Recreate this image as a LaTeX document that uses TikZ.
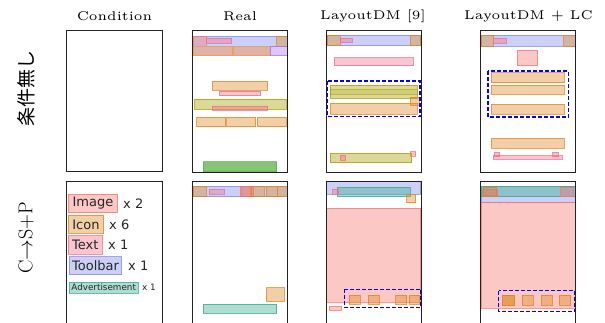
\documentclass[tikz,border=0pt]{standalone}
\usepackage{fontspec}
\newfontfamily\dejavu{DejaVu Sans}
\newfontfamily\cjk{Noto Sans CJK JP}
\definecolor{cimg}{HTML}{F8766D}
\definecolor{cicon}{HTML}{DE8720}
\definecolor{ctext}{HTML}{F06E8C}
\definecolor{ctool}{HTML}{808AED}
\definecolor{cad}{HTML}{34AA8E}
\definecolor{colive}{HTML}{A79D00}
\definecolor{cpurp}{HTML}{AC75F2}
\definecolor{cgreen}{HTML}{5DB04A}
\definecolor{cmauve}{HTML}{DDB2A8}
\definecolor{frame}{HTML}{222222}
\tikzset{
  el/.style={fill opacity=0.4, draw opacity=0.75, line width=0.8pt},
  img/.style={el, fill=cimg, draw=cimg},
  icon/.style={el, fill=cicon, draw=cicon},
  txt/.style={el, fill=ctext, draw=ctext},
  tool/.style={el, fill=ctool, draw=ctool},
  ad/.style={el, fill=cad, draw=cad},
  olive/.style={el, fill=colive, draw=colive},
  olivethin/.style={fill opacity=0.2, draw opacity=0.5, line width=0.6pt, fill=colive, draw=colive},
  purp/.style={el, fill=cpurp, draw=cpurp},
  green/.style={el, fill opacity=0.75, fill=cgreen, draw=cgreen},
  mauve/.style={line width=0.8pt, fill=cmauve, draw=cicon!80, draw opacity=0.75},
  panel/.style={draw=frame, line width=0.8pt},
  lc/.style={draw=blue, line width=1.4pt, dash pattern=on 4pt off 2pt},
  title/.style={scale=2.55, inner sep=0pt, font=\fontsize{5}{6}\selectfont},
  chiptext/.style={inner sep=0pt, text=black!85, font=\dejavu\fontsize{13}{14}\selectfont},
  cnt/.style={inner sep=0pt, anchor=west, text=black!85, font=\dejavu\fontsize{13}{14}\selectfont},
}
\begin{document}
\begin{tikzpicture}[x=1pt,y=-1pt]
\useasboundingbox (0,0) rectangle (605,322);
\clip (0,0) rectangle (605,322);

% titles
\node[title] (t1) at (114.5,16.5) {Condition};
\node[title] (t2) at (240,16.5) {Real};
\node[title] (t3) at (373,16.5) {LayoutDM [9]};
\node[title] (t4) at (528.5,16.5) {LayoutDM + LC};

% row labels
\node[rotate=90, inner sep=0pt, font=\cjk\fontsize{19}{20}\selectfont] (r1) at (26,88) {条件無し};
\node[rotate=90, inner sep=0pt, font=\fontsize{20}{22}\selectfont] (r2) at (26,238) {C$\rightarrow$S$+$P};

% ---------------- Row 1 -----------------
\draw[panel] (66.7,30.5) rectangle (162.3,171.5);

% Real row 1
\draw[tool] (192.7,36) rectangle (287.3,46);
\draw[img] (193.3,36) rectangle (206,46);
\draw[txt] (206.7,38.3) rectangle (231.7,43.3);
\draw[icon] (276.7,36) rectangle (287.3,46);
\draw[mauve] (193.3,46.3) rectangle (232.7,55.7);
\draw[mauve] (233.3,46.3) rectangle (270.7,55.7);
\draw[purp] (270.7,46.3) rectangle (287.3,55.7);
\draw[icon] (212.3,81) rectangle (267.7,90.3);
\draw[txt] (219.3,91) rectangle (260.7,95.7);
\draw[olive] (194.7,99.3) rectangle (286,109.3);
\draw[txt] (212.3,106.3) rectangle (267.7,110.3);
\draw[icon] (196.7,117.3) rectangle (225.7,126.7);
\draw[icon] (226.7,117.3) rectangle (255.7,126.7);
\draw[icon] (257.3,117.3) rectangle (286,126.7);
\draw[green] (203.3,161.7) rectangle (276.7,171.7);
\draw[panel] (192.7,30.5) rectangle (287.7,172);

% LayoutDM row 1
\draw[tool] (327.3,35) rectangle (420.7,45.7);
\draw[icon] (327.3,35) rectangle (340,45.7);
\draw[txt] (340,38.3) rectangle (352.3,42.7);
\draw[icon] (410,35.7) rectangle (420.7,45.7);
\draw[txt] (334,57.7) rectangle (413.3,65.7);
\draw[olive] (330,85) rectangle (417.3,98.3);
\draw[olivethin] (330,89) rectangle (417.3,94.5);
\draw[icon] (330,103.3) rectangle (417.3,114);
\draw[icon] (410,97.3) rectangle (419.3,105);
\draw[olive] (330,153.3) rectangle (411.7,162.7);
\draw[txt] (340,155) rectangle (345.7,160);
\draw[img] (410,151.7) rectangle (415.7,156);
\draw[lc] (327.7,81) rectangle (420,116.7);
\draw[panel] (326.7,30.5) rectangle (421,172);

% LayoutDM + LC row 1
\draw[tool] (481,35) rectangle (575,46);
\draw[icon] (481,35) rectangle (493.7,46);
\draw[txt] (493.7,38.3) rectangle (506,43.3);
\draw[icon] (563.7,35.7) rectangle (575,46);
\draw[img] (517.3,50) rectangle (537.7,65.7);
\draw[icon] (491.3,72.7) rectangle (564,82.7);
\draw[icon] (491.3,85) rectangle (564,94.3);
\draw[icon] (491.3,104.3) rectangle (564,114);
\draw[icon] (491.3,138.3) rectangle (564.3,148.3);
\draw[txt] (493.3,155.7) rectangle (562.3,159);
\draw[txt] (494,152) rectangle (499.7,156.7);
\draw[txt] (552.7,152) rectangle (558,156.7);
\draw[lc] (488,71) rectangle (568.7,117);
\draw[panel] (480.7,30.5) rectangle (575.3,172);

% ---------------- Row 2 -----------------
\draw[panel] (66.7,181.7) rectangle (162.3,330);
\draw[img] (68.3,194) rectangle (117.7,212.7);
\node[chiptext] (cimage) at (93,203.5) {Image};
\node[cnt] (nimage) at (123,203.5) {x 2};
\draw[icon] (68.3,215.3) rectangle (103.7,233.3);
\node[chiptext] (cicon) at (86,224.5) {Icon};
\node[cnt] (nicon) at (109,224.5) {x 6};
\draw[txt] (68.3,235.7) rectangle (102.3,254);
\node[chiptext] (ctext) at (85.3,245) {Text};
\node[cnt] (ntext) at (108,245) {x 1};
\draw[tool] (69.3,256.7) rectangle (121.7,274.7);
\node[chiptext] (ctool) at (95.5,265.7) {Toolbar};
\node[cnt] (ntool) at (128,265.7) {x 1};
\draw[ad] (69.3,282) rectangle (138,293.3);
\node[chiptext, font=\dejavu\fontsize{8.8}{10}\selectfont] (cad) at (103.7,287.7) {Advertisement};
\node[cnt, font=\dejavu\fontsize{8.8}{10}\selectfont] (nad) at (142,287.7) {x 1};

% Real row 2
\draw[tool] (192.7,186) rectangle (287.3,196.7);
\draw[icon] (193.3,186) rectangle (206,196.7);
\draw[txt] (209.3,189) rectangle (224.3,194.3);
\draw[icon] (241.7,186) rectangle (250.3,196.7);
\draw[txt] (240.7,186) rectangle (253,196.7);
\draw[icon] (251,186) rectangle (264,196.7);
\draw[icon] (266,186) rectangle (277.3,196.7);
\draw[icon] (277.3,186) rectangle (287.3,196.7);
\draw[icon] (266,287.7) rectangle (284.3,301);
\draw[ad] (203.3,304) rectangle (276.7,313.3);
\draw[panel] (192.7,181.7) rectangle (287.7,330);

% LayoutDM row 2
\draw[tool] (326.7,181.7) rectangle (420.7,194);
\draw[ad] (337.3,187.3) rectangle (410,196.7);
\draw[txt] (332.7,189) rectangle (338.3,194.3);
\draw[icon] (406.7,194.3) rectangle (415.7,202.7);
\draw[img] (326.7,208.3) rectangle (420.7,302.3);
\draw[icon] (349.3,295) rectangle (360,304.3);
\draw[icon] (368.3,295) rectangle (379.3,304.3);
\draw[icon] (395.7,295) rectangle (406.7,304.3);
\draw[icon] (409.3,295) rectangle (419.3,304.3);
\draw[img] (329.3,306) rectangle (341.7,310.3);
\draw[lc] (344.7,289.3) rectangle (420.7,307.7);
\draw[panel] (326.7,181.7) rectangle (421,330);

% LayoutDM + LC row 2
\draw[tool] (481,186) rectangle (575,202);
\draw[ad] (481,186) rectangle (575,196.7);
\draw[txt] (482,189) rectangle (497.3,195);
\draw[icon] (483.3,187.3) rectangle (496.7,196);
\draw[img] (560.7,187.3) rectangle (573.3,196.7);
\draw[img] (481,202) rectangle (575,308.3);
\draw[icon] (502.7,295) rectangle (514,305);
\draw[icon] (502.7,295) rectangle (514,305);
\draw[icon] (522,295) rectangle (533.3,305);
\draw[icon] (541,295) rectangle (552,305);
\draw[icon] (559.3,295) rectangle (570.7,305);
\draw[lc] (498.7,290.7) rectangle (574.7,311.7);
\draw[panel] (480.7,181.7) rectangle (575.3,330);
\end{tikzpicture}
\end{document}
